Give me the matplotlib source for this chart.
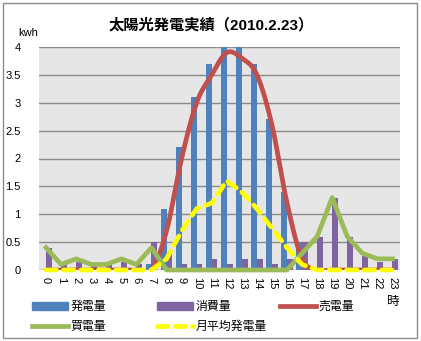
import numpy as np
import matplotlib
matplotlib.use("Agg")
import matplotlib.pyplot as plt
from matplotlib.patches import Rectangle
from matplotlib.lines import Line2D

plt.rcParams['font.family'] = ['Liberation Sans', 'Noto Sans CJK JP']

hours = list(range(24))
hour_labels = [str(h) for h in hours]

# 発電量 / 消費量 / 売電量 / 買電量 / 月平均発電量 (kWh)
generation = [0, 0, 0, 0, 0, 0, 0, 0.1, 1.1, 2.2, 3.1, 3.7,
              4.0, 4.0, 3.7, 2.7, 1.4, 0.5, 0, 0, 0, 0, 0, 0]
consumption = [0.4, 0.1, 0.15, 0.1, 0.1, 0.15, 0.1, 0.5, 0.3, 0.1, 0.1, 0.2,
               0.1, 0.2, 0.2, 0.1, 0.2, 0.5, 0.6, 1.3, 0.6, 0.25, 0.15, 0.2]
sold = [0, 0, 0, 0, 0, 0, 0, 0, 0.7, 2.0, 3.0, 3.5,
        3.9, 3.8, 3.5, 2.6, 1.2, 0.2, 0, 0, 0, 0, 0, 0]
bought = [0.4, 0.1, 0.2, 0.1, 0.1, 0.2, 0.1, 0.4, 0, 0, 0, 0,
          0, 0, 0, 0, 0, 0.3, 0.6, 1.3, 0.6, 0.3, 0.2, 0.2]
month_avg = [0, 0, 0, 0, 0, 0, 0, 0, 0.2, 0.7, 1.1, 1.2,
             1.6, 1.4, 1.1, 0.75, 0.4, 0.1, 0, 0, 0, 0, 0, 0]

BLUE = '#4F81BD'
PURPLE = '#8064A2'
RED = '#C0504D'
GREEN = '#9BBB59'
YELLOW = '#FFFF00'

W, H = 421, 341
LW = 3.4
DASH = (0, (2.2, 1.5))


def smooth(x, y, n=20):
    # bezier smoothing through every point (like a smoothed line chart)
    x = np.asarray(x, float)
    y = np.asarray(y, float)
    px = np.concatenate([[x[0]], x, [x[-1]]])
    py = np.concatenate([[y[0]], y, [y[-1]]])
    xs, ys = [], []
    t = np.linspace(0, 1, n)
    for i in range(1, len(px) - 2):
        p0 = np.array([px[i], py[i]])
        p3 = np.array([px[i + 1], py[i + 1]])
        p1 = p0 + (np.array([px[i + 1], py[i + 1]]) - np.array([px[i - 1], py[i - 1]])) / 6
        p2 = p3 - (np.array([px[i + 2], py[i + 2]]) - np.array([px[i], py[i]])) / 6
        b = ((1 - t) ** 3)[:, None] * p0 + (3 * (1 - t) ** 2 * t)[:, None] * p1 \
            + (3 * (1 - t) * t ** 2)[:, None] * p2 + (t ** 3)[:, None] * p3
        xs.extend(b[:, 0])
        ys.extend(b[:, 1])
    return np.array(xs), np.array(ys)


fig = plt.figure(figsize=(W / 100, H / 100), dpi=100)
fig.patch.set_facecolor('white')
fig.add_artist(Rectangle((3 / W, 3 / H), 414 / W, 335 / H, transform=fig.transFigure,
                         facecolor='none', edgecolor='#8C8C8C', linewidth=1))

ax = fig.add_axes([38.5 / W, (H - 270) / H, 361.5 / W, 223 / H])
ax.set_facecolor('#E6E6E6')
for s in ax.spines.values():
    s.set_visible(False)

x = np.arange(len(hours))
bw = 0.38
ax.bar(x - bw / 2, generation, bw, color=BLUE, zorder=2)
ax.bar(x + bw / 2, consumption, bw, color=PURPLE, zorder=2)

sx, sy = smooth(x, sold)
ax.plot(sx, sy, color=RED, lw=LW, zorder=3, solid_capstyle='round')
ax.plot(x, bought, color=GREEN, lw=LW, zorder=4, clip_on=False, solid_joinstyle='round')
ax.plot(x, month_avg, color=YELLOW, lw=LW, zorder=5, clip_on=False,
        linestyle=DASH, dash_capstyle='round')

ax.set_xlim(-0.5, 23.5)
ax.set_ylim(0, 4)
ax.set_yticks(np.arange(0, 4.01, 0.5))
ax.set_yticklabels(['0', '0.5', '1', '1.5', '2', '2.5', '3', '3.5', '4'], fontsize=8)
ax.yaxis.grid(True, color='#8A8A8A', linewidth=1)
ax.set_axisbelow(True)
ax.set_xticks(x)
ax.set_xticklabels(hour_labels, rotation=-90, fontsize=8, va='top', ha='center')
ax.tick_params(axis='both', length=0)
ax.tick_params(axis='y', pad=13)
ax.tick_params(axis='x', pad=5)

fig.text(211 / W, 1 - 25 / H, '太陽光発電実績（2010.2.23）', ha='center', va='center',
         fontsize=11, fontweight='bold')
fig.text(28 / W, 1 - 33 / H, 'kwh', ha='center', va='center', fontsize=8)
fig.text(393 / W, 1 - 302 / H, '時', ha='center', va='center', fontsize=9)

# legend entries, laid out in two rows
entries = [
    (Rectangle((0, 0), 1, 1, color=BLUE), '発電量', 32, 307),
    (Rectangle((0, 0), 1, 1, color=PURPLE), '消費量', 157, 307),
    (Line2D([], [], color=RED, lw=LW), '売電量', 280, 307),
    (Line2D([], [], color=GREEN, lw=LW), '買電量', 32, 327),
    (Line2D([], [], color=YELLOW, lw=LW, linestyle=DASH, dash_capstyle='round'),
     '月平均発電量', 157, 327),
]
for handle, label, lx, ly in entries:
    fig.legend([handle], [label], loc='center left', bbox_to_anchor=(lx / W, 1 - ly / H),
               frameon=False, borderpad=0, borderaxespad=0, handlelength=3,
               handletextpad=0.2, fontsize=8.6)

fig.savefig('out.png', dpi=100)
